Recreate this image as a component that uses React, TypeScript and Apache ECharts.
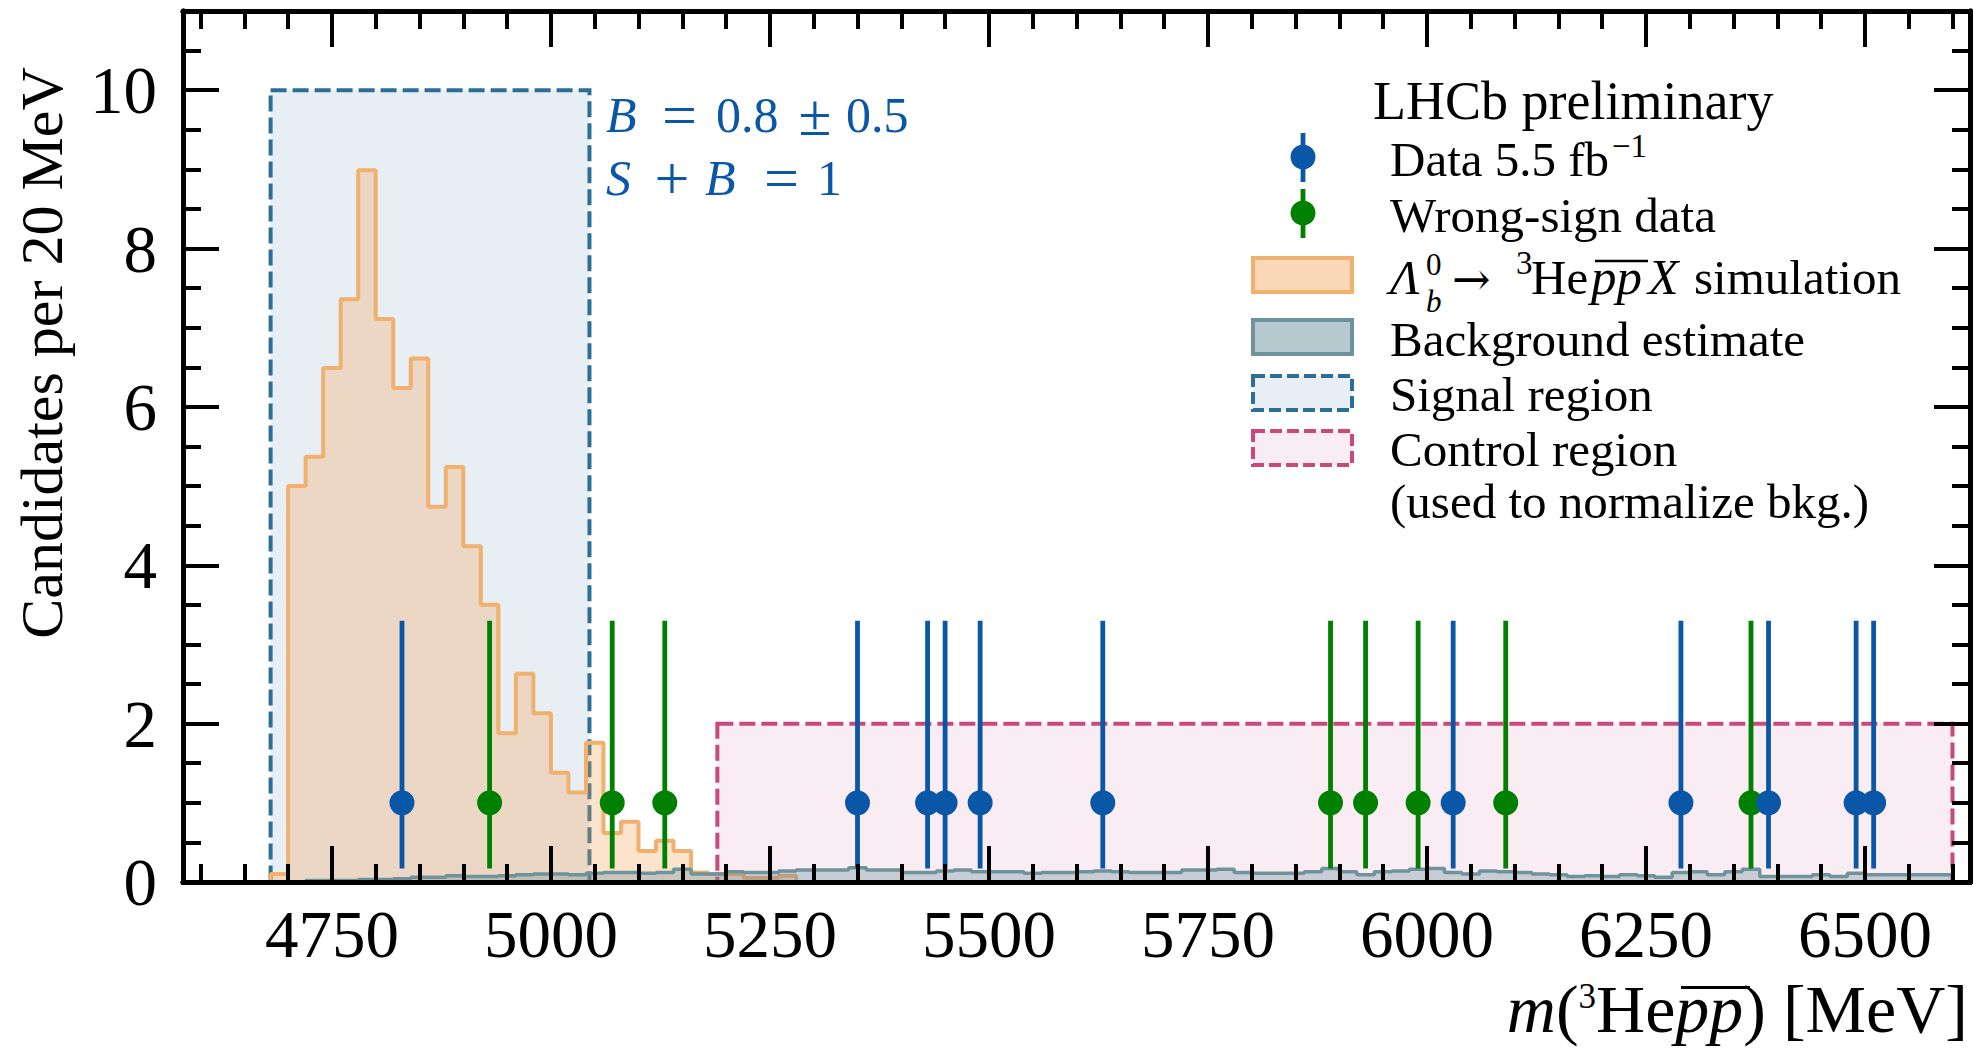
import React, { useEffect, useRef } from "react";
import * as echarts from "echarts";

const FONT = "'Liberation Serif', 'Times New Roman', Times, serif";

// ---------- axes ----------
const X_RANGE = [4580, 6620];
const Y_RANGE = [0, 11];
const xMajorTicks = [4750, 5000, 5250, 5500, 5750, 6000, 6250, 6500];
const yMajorTicks = [0, 2, 4, 6, 8, 10];
const xMinorTicks: number[] = [];
for (let v = 4600; v <= 6600; v += 50) xMinorTicks.push(v);
const yMinorTicks: number[] = [];
for (let v = 0; v <= 10.5; v += 0.5) yMinorTicks.push(v);

// ---------- histograms (20 MeV bins) ----------
const BIN_WIDTH = 20;
const simStart = 4680;
const simCounts = [
  0.1, 5.0, 5.37, 6.49, 7.36, 8.99, 7.11, 6.24, 6.61, 4.74, 5.24, 4.24, 3.5, 1.88, 2.63,
  2.13, 1.38, 1.13, 1.76, 0.62, 0.76, 0.39, 0.52, 0.39, 0.12, 0.1, 0.1, 0.05, 0.05, 0.08,
];
const bkgStart = 4720;
const bkgCounts = [
  0.02, 0.02, 0.02, 0.03, 0.03, 0.04,
  0.06, 0.06, 0.08, 0.07, 0.07, 0.08,
  0.09, 0.1, 0.1, 0.09, 0.11, 0.12,
  0.12, 0.11, 0.12, 0.16, 0.1, 0.1,
  0.13, 0.12, 0.12, 0.14, 0.15, 0.15,
  0.15, 0.18, 0.15, 0.15, 0.12, 0.12,
  0.14, 0.15, 0.13, 0.13, 0.13, 0.11,
  0.12, 0.12, 0.13, 0.14, 0.13, 0.12,
  0.12, 0.12, 0.15, 0.15, 0.16, 0.12,
  0.11, 0.11, 0.11, 0.13, 0.17, 0.13,
  0.09, 0.13, 0.14, 0.16, 0.17, 0.12,
  0.1, 0.14, 0.13, 0.12, 0.1, 0.09,
  0.07, 0.08, 0.07, 0.09, 0.08, 0.06,
  0.12, 0.13, 0.09, 0.13, 0.16, 0.07,
  0.07, 0.07, 0.09, 0.07, 0.11, 0.09,
  0.09, 0.09, 0.09, 0.09,
];

// ---------- data points ----------
const dataMass = [4830, 5350, 5430, 5450, 5490, 5630, 6030, 6290, 6390, 6490, 6510];
const dataCounts = [1, 1, 1, 1, 1, 1, 1, 1, 1, 1, 1];
const wsMass = [4930, 5070, 5130, 5890, 5930, 5990, 6090, 6370];
const wsCounts = [1, 1, 1, 1, 1, 1, 1, 1];
const errDown = 0.83;
const errUp = 2.3;

// ---------- regions [x0, x1, y0, y1] ----------
const signalRegion = [4680, 5044, 0, 10];
const controlRegion = [5190, 6600, 0, 2];

// ---------- colours ----------
const C_DATA = "#0a57a8";
const C_WS = "#008000";
const C_SIM_LINE = "#f0b06e";
const C_SIM_FILL = "rgba(242,160,80,0.42)";
const C_BKG_LINE = "#6e939d";
const C_BKG_FILL = "rgba(110,147,157,0.5)";
const C_SIG_LINE = "#2b6f97";
const C_SIG_FILL = "rgba(43,111,151,0.11)";
const C_CTRL_LINE = "#c8497c";
const C_CTRL_FILL = "rgba(200,73,124,0.1)";
const C_TEXT_BLUE = "#0a57a8";

function stepPoints(start: number, counts: number[]) {
  const pts: number[][] = [[start, 0]];
  counts.forEach((c, i) => pts.push([start + i * BIN_WIDTH, c]));
  const end = start + counts.length * BIN_WIDTH;
  pts.push([end, counts[counts.length - 1]]);
  pts.push([end, 0]);
  return pts;
}

const axisLineStyle = { color: "#000", width: 5 };

function xAxisDef(position: string, ticks: number[], length: number, labels: boolean) {
  return {
    type: "value",
    gridIndex: 0,
    position,
    min: X_RANGE[0],
    max: X_RANGE[1],
    z: 50,
    axisLine: { show: true, onZero: false, lineStyle: axisLineStyle },
    axisTick: { show: true, inside: true, length, customValues: ticks, lineStyle: { color: "#000", width: 4 } },
    axisLabel: labels
      ? { show: true, customValues: ticks, margin: 18, fontSize: 67, fontFamily: FONT, color: "#000", formatter: (v: number) => String(v) }
      : { show: false },
    splitLine: { show: false },
  };
}

function yAxisDef(position: string, ticks: number[], length: number, labels: boolean) {
  return {
    type: "value",
    gridIndex: 0,
    position,
    min: Y_RANGE[0],
    max: Y_RANGE[1],
    z: 50,
    axisLine: { show: true, onZero: false, lineStyle: axisLineStyle },
    axisTick: { show: true, inside: true, length, customValues: ticks, lineStyle: { color: "#000", width: 4 } },
    axisLabel: labels
      ? { show: true, customValues: ticks, margin: 26, fontSize: 67, fontFamily: FONT, color: "#000", formatter: (v: number) => String(v) }
      : { show: false },
    splitLine: { show: false },
  };
}

function regionSeries(region: number[], fill: string, stroke: string, z: number) {
  return {
    type: "custom",
    z,
    silent: true,
    data: [region],
    encode: { x: [0, 1], y: [2, 3] },
    renderItem: (_p: any, api: any) => {
      const tl = api.coord([api.value(0), api.value(3)]);
      const br = api.coord([api.value(1), api.value(2)]);
      return {
        type: "rect",
        shape: { x: tl[0], y: tl[1], width: br[0] - tl[0], height: br[1] - tl[1] },
        style: { fill, stroke, lineWidth: 4, lineDash: [16, 6] },
      };
    },
  };
}

function errorBarSeries(mass: number[], counts: number[], color: string, z: number) {
  return {
    type: "custom",
    z,
    silent: true,
    data: mass.map((m, i) => [m, counts[i], counts[i] - errDown, counts[i] + errUp]),
    encode: { x: 0, y: [1, 2, 3] },
    renderItem: (_p: any, api: any) => {
      const lo = api.coord([api.value(0), api.value(2)]);
      const hi = api.coord([api.value(0), api.value(3)]);
      return {
        type: "line",
        shape: { x1: lo[0], y1: lo[1], x2: hi[0], y2: hi[1] },
        style: { stroke: color, lineWidth: 4.8 },
      };
    },
  };
}

function pointSeries(mass: number[], counts: number[], color: string, z: number) {
  return {
    type: "scatter",
    z,
    silent: true,
    data: mass.map((m, i) => [m, counts[i]]),
    symbol: "circle",
    symbolSize: 25,
    itemStyle: { color, opacity: 1 },
  };
}

function txt(text: string, x: number, y: number, size: number, extra: any = {}) {
  return {
    type: "text",
    x,
    y,
    z: 100,
    silent: true,
    style: {
      text,
      fontSize: size,
      fontFamily: FONT,
      fill: "#000",
      align: "left",
      verticalAlign: "middle",
      lineHeight: Math.round(size * 0.85),
      ...extra,
    },
  };
}

function hline(x1: number, x2: number, y: number, color: string, w: number) {
  return { type: "line", z: 100, silent: true, shape: { x1, y1: y, x2, y2: y }, style: { stroke: color, lineWidth: w } };
}

function legendBox(top: number, fill: string, stroke: string, dashed: boolean) {
  return {
    type: "rect",
    z: 100,
    silent: true,
    shape: { x: 1253, y: top + 2, width: 99, height: 34 },
    style: { fill, stroke, lineWidth: 4, lineDash: dashed ? [12, 5] : null },
  };
}

function legendErrMarker(cy: number, color: string) {
  return [
    { type: "line", z: 100, silent: true, shape: { x1: 1303, y1: cy - 24, x2: 1303, y2: cy + 25 }, style: { stroke: color, lineWidth: 4.8 } },
    { type: "circle", z: 101, silent: true, shape: { cx: 1303, cy, r: 12.5 }, style: { fill: color } },
  ];
}

const xTitleRich = {
  i: { fontSize: 68, fontFamily: FONT, fontStyle: "italic", fill: "#000", lineHeight: 60 },
  n: { fontSize: 68, fontFamily: FONT, fill: "#000", lineHeight: 60 },
  s: { fontSize: 35, fontFamily: FONT, fill: "#000", lineHeight: 32, verticalAlign: "top" },
};

const graphics: any[] = [
  // y-axis title
  {
    type: "text",
    x: 42,
    y: 353,
    rotation: Math.PI / 2,
    z: 100,
    silent: true,
    style: { text: "Candidates per 20 MeV", fontSize: 60, fontFamily: FONT, fill: "#000", align: "center", verticalAlign: "middle", lineHeight: 52 },
  },
  // x-axis title  m(3He pp) [MeV]
  {
    type: "text",
    x: 1968,
    y: 1009,
    z: 100,
    silent: true,
    style: {
      text: "{i|m}{n|(}{s|3}{n|He}{i|pp}{n|) [MeV]}",
      align: "right",
      verticalAlign: "middle",
      rich: xTitleRich,
    },
  },
  hline(1681, 1750, 987.5, "#000", 3),

  // B = 0.8 ± 0.5
  txt("B", 606, 114.5, 50, { fontStyle: "italic", fill: C_TEXT_BLUE }),
  txt("=", 679.5, 114.5, 62, { fill: C_TEXT_BLUE, align: "center" }),
  txt("0.8", 716, 114.5, 50, { fill: C_TEXT_BLUE }),
  txt("±", 815, 114.5, 60, { fill: C_TEXT_BLUE, align: "center" }),
  txt("0.5", 846, 114.5, 50, { fill: C_TEXT_BLUE }),
  // S + B = 1
  txt("S", 606, 177.8, 50, { fontStyle: "italic", fill: C_TEXT_BLUE }),
  txt("+", 672, 177.8, 62, { fill: C_TEXT_BLUE, align: "center" }),
  txt("B", 705, 177.8, 50, { fontStyle: "italic", fill: C_TEXT_BLUE }),
  txt("=", 781.5, 177.8, 62, { fill: C_TEXT_BLUE, align: "center" }),
  txt("1", 817, 177.8, 50, { fill: C_TEXT_BLUE }),

  // legend
  txt("LHCb preliminary", 1373, 101, 54),
  ...legendErrMarker(157, C_DATA),
  txt("Data 5.5 fb", 1390, 159, 49),
  txt("\u22121", 1612, 145.5, 33),
  ...legendErrMarker(213, C_WS),
  txt("Wrong-sign data", 1390, 215, 49),

  legendBox(256, "rgba(242,160,80,0.42)", C_SIM_LINE, false),
  txt("\u039B", 1390, 277, 49, { fontStyle: "italic", lineHeight: 34 }),
  txt("0", 1426, 264, 31, { lineHeight: 20 }),
  txt("b", 1426, 301, 31, { fontStyle: "italic", lineHeight: 20 }),
  txt("\u2192", 1452, 279, 46, { fontFamily: "'DejaVu Serif', serif" }),
  txt("3", 1516, 263, 33),
  txt("He", 1531, 277, 49),
  txt("pp", 1591, 277, 51, { fontStyle: "italic" }),
  hline(1595, 1648, 261, "#000", 2.5),
  txt("X", 1648, 277, 50, { fontStyle: "italic" }),
  txt("simulation", 1694, 277, 49),

  legendBox(318, C_BKG_FILL, C_BKG_LINE, false),
  txt("Background estimate", 1390, 339, 49),
  legendBox(374, C_SIG_FILL, C_SIG_LINE, true),
  txt("Signal region", 1390, 394, 49),
  legendBox(429, C_CTRL_FILL, C_CTRL_LINE, true),
  txt("Control region", 1390, 449, 49),
  txt("(used to normalize bkg.)", 1390, 501, 49),
];

const option: any = {
  animation: false,
  backgroundColor: "#ffffff",
  grid: { left: 183, right: 4, top: 11, bottom: 166, containLabel: false, outerBoundsMode: "none" },
  xAxis: [
    xAxisDef("bottom", xMajorTicks, 36, true),
    xAxisDef("bottom", xMinorTicks, 18, false),
    xAxisDef("top", xMajorTicks, 36, false),
    xAxisDef("top", xMinorTicks, 18, false),
  ],
  yAxis: [
    yAxisDef("left", yMajorTicks, 36, true),
    yAxisDef("left", yMinorTicks, 18, false),
    yAxisDef("right", yMajorTicks, 36, false),
    yAxisDef("right", yMinorTicks, 18, false),
  ],
  series: [
    regionSeries(signalRegion, C_SIG_FILL, C_SIG_LINE, 1),
    {
      type: "line",
      z: 2,
      silent: true,
      data: stepPoints(simStart, simCounts),
      step: "end",
      symbol: "none",
      showSymbol: false,
      lineStyle: { color: C_SIM_LINE, width: 4 },
      areaStyle: { color: C_SIM_FILL, origin: "start" },
    },
    regionSeries(controlRegion, C_CTRL_FILL, C_CTRL_LINE, 3),
    {
      type: "line",
      z: 4,
      silent: true,
      data: stepPoints(bkgStart, bkgCounts),
      step: "end",
      symbol: "none",
      showSymbol: false,
      lineStyle: { color: C_BKG_LINE, width: 3.5 },
      areaStyle: { color: C_BKG_FILL, origin: "start" },
    },
    errorBarSeries(wsMass, wsCounts, C_WS, 5),
    pointSeries(wsMass, wsCounts, C_WS, 6),
    errorBarSeries(dataMass, dataCounts, C_DATA, 7),
    pointSeries(dataMass, dataCounts, C_DATA, 8),
  ],
  graphic: graphics,
};

export default function App() {
  const ref = useRef<HTMLDivElement>(null);
  useEffect(() => {
    const chart = echarts.init(ref.current as HTMLDivElement, null, { renderer: "svg" });
    chart.setOption(option);
    return () => chart.dispose();
  }, []);
  return (
    <div
      ref={ref}
      style={{ position: "fixed", left: 0, top: 0, width: 1974, height: 1048, background: "#fff" }}
    />
  );
}
